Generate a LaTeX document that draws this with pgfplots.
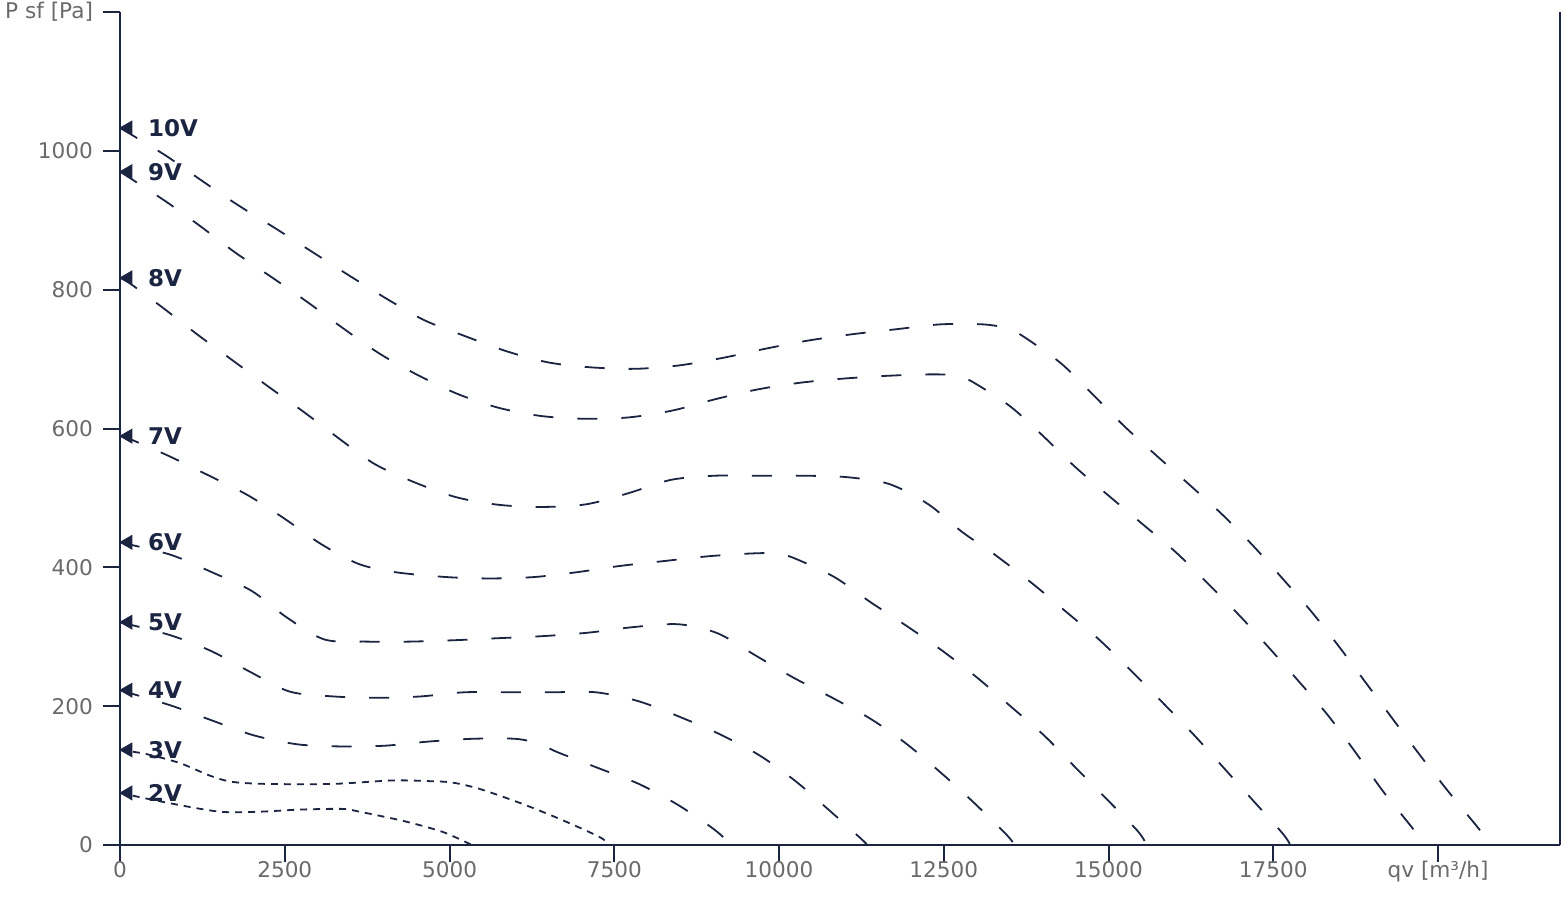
\documentclass[border=0pt]{standalone}
\usepackage{fontspec}
\setmainfont{DejaVu Sans}
\usepackage{pgfplots}
\pgfplotsset{compat=1.18}
\definecolor{navy}{HTML}{1B2441}
\definecolor{tickgrey}{HTML}{6A6A6A}
\begin{document}
\begin{tikzpicture}
\begin{axis}[
  at={(0,0)}, anchor=south west,
  scale only axis, width=720pt, height=416.5pt,
  xmin=0, xmax=21850, ymin=0, ymax=1200,
  scaled ticks=false,
  axis x line*=bottom, axis y line*=left,
  axis line style={navy, line width=1pt},
  tick align=outside, major tick length=8.5pt,
  tick style={navy, line width=1pt},
  xtick={0,2500,5000,7500,10000,12500,15000,17500,20000},
  xticklabels={0,2500,5000,7500,10000,12500,15000,17500,{qv [m³/h]}},
  ytick={0,200,400,600,800,1000,1200},
  yticklabels={0,200,400,600,800,1000,{P sf [Pa]}},
  tick label style={font=\fontsize{10.8}{13}\selectfont, text=tickgrey},
  xticklabel style={inner ysep=1pt, yshift=1.5pt},
  yticklabel style={xshift=-1.5pt},
  clip=false,
  curve/.style={navy, line width=0.9pt, dash pattern=on 10pt off 12pt, smooth, tension=0.5},
  lowcurve/.style={navy, line width=0.9pt, dash pattern=on 3.5pt off 3pt, smooth, tension=0.5},
]
% 10V
\addplot[curve] coordinates {
(0,1033) (681,994) (1226,958) (1771,923) (2347,889) (2907,855) (3467,821) (4027,788)
(4618,756) (5238,733) (5874,711) (6510,695) (7161,688) (7827,686) (8493,691) (9160,702)
(9796,715) (10462,727) (11128,736) (11779,743) (12445,750) (13096,750) (13475,744)
(13732,731) (14277,694) (14761,649) (15231,604) (15715,562) (16215,520) (16715,477)
(17184,432) (17638,384) (18062,338) (18471,289) (18925,231) (19379,173) (19833,116)
(20257,65) (20605,25) (20800,0)};
% 9V
\addplot[curve] coordinates {
(0,970) (666,929) (1211,892) (1741,854) (2301,818) (2846,782) (3391,744) (3936,708)
(4497,678) (5117,650) (5738,630) (6389,618) (7055,614) (7721,616) (8388,626) (9024,642)
(9659,656) (10325,666) (10991,672) (11658,676) (12324,678) (12718,676) (12975,665)
(13520,631) (14020,588) (14489,545) (15004,503) (15519,462) (16018,422) (16503,377)
(16972,332) (17426,285) (17865,238) (18319,188) (18743,134) (19152,79) (19606,25) (19800,0)};
% 8V
\addplot[curve] coordinates {
(0,817) (151,809) (636,775) (1166,736) (1711,698) (2256,660) (2801,623) (3331,585)
(3861,549) (4481,522) (5102,501) (5753,490) (6419,487) (7086,491) (7721,507) (8357,526)
(9024,532) (9705,532) (10356,532) (11022,530) (11673,520) (12263,491) (12778,451)
(13278,418) (13853,376) (14368,335) (14867,295) (15352,250) (15822,205) (16291,159)
(16730,113) (17184,65) (17638,17) (17760,0)};
% 7V
\addplot[curve] coordinates {
(0,589) (121,586) (727,561) (1332,533) (1938,504) (2498,470) (3043,434) (3618,405)
(4179,393) (4951,386) (5617,384) (6283,386) (6934,393) (7585,402) (8251,409) (8933,416)
(9584,420) (9962,420) (10235,413) (10840,386) (11385,350) (11945,315) (12490,279)
(13020,240) (13535,198) (14020,158) (14504,111) (14973,66) (15443,20) (15580,0)};
% 6V
\addplot[curve] coordinates {
(0,436) (772,418) (1393,393) (1999,366) (2528,328) (3104,296) (3755,293) (4391,293)
(5072,295) (5753,298) (6434,301) (7116,306) (7797,314) (8478,318) (9069,305) (9644,273)
(10220,241) (10810,212) (11385,182) (11930,146) (12445,105) (12945,62) (13430,17) (13580,0)};
% 5V
\addplot[curve] coordinates {
(0,321) (772,302) (1393,279) (1983,249) (2574,221) (3240,214) (3906,212) (4557,214)
(5223,220) (5905,220) (6556,220) (7222,220) (7873,207) (8509,184) (9114,159) (9705,129)
(10250,92) (10750,51) (11234,10) (11340,0)};
% 4V
\addplot[curve] coordinates {
(0,223) (772,201) (1408,179) (2029,158) (2695,145) (3346,142) (4012,143) (4678,149)
(5344,153) (5995,153) (6359,146) (6631,134) (7252,111) (7873,88) (8463,58) (9008,23) (9280,0)};
% 3V
\addplot[lowcurve] coordinates {
(0,137) (400,131) (908,118) (1362,100) (1700,91) (2225,88) (3225,88) (4133,93) (4693,92)
(5040,90) (5450,81) (6057,61) (6660,38) (7267,12) (7430,0)};
% 2V
\addplot[lowcurve] coordinates {
(0,75) (711,61) (1514,48) (2120,48) (2725,51) (3376,52) (3633,48) (4239,36) (4648,26)
(4950,17) (5340,0)};
% markers and labels
\addplot[only marks, mark=triangle*, mark size=4pt, navy,
  mark options={xshift=4pt, rotate=90, fill=navy, draw=navy},
  point meta=explicit symbolic, nodes near coords,
  every node near coord/.append style={anchor=west, xshift=6.5pt, yshift=0pt,
    font=\fontsize{11.5}{13}\selectfont\bfseries, text=navy}]
coordinates {
(0,1033) [10V] (0,970) [9V] (0,817) [8V] (0,589) [7V] (0,436) [6V]
(0,321) [5V] (0,223) [4V] (0,137) [3V] (0,75) [2V]};
\draw[navy, line width=1pt] (rel axis cs:1,0) -- (rel axis cs:1,1);
\end{axis}
\pgfresetboundingbox
\path (-60pt,-25.5pt) rectangle (724pt,422.5pt);
\end{tikzpicture}
\end{document}
